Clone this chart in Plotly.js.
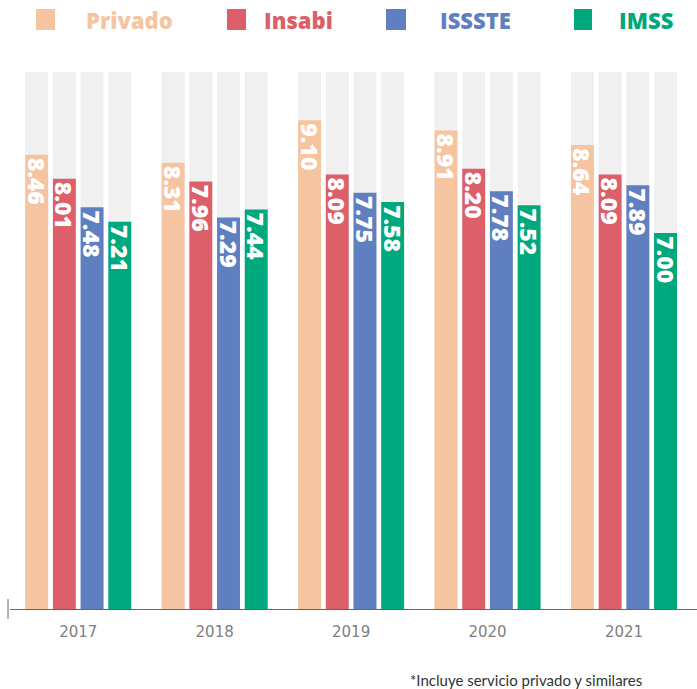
<!DOCTYPE html>
<html>
<head>
<meta charset="utf-8">
<script src="https://cdn.plot.ly/plotly-3.0.1.min.js"></script>
<style>html,body{margin:0;padding:0;background:#fff;}#chart{width:697px;height:689px;}</style>
</head>
<body>
<div id="chart"></div>
<script>
const years = ['2017','2018','2019','2020','2021'];
const seriesNames = ['Privado','Insabi','ISSSTE','IMSS'];
const privado = [8.46, 8.31, 9.10, 8.91, 8.64];
const insabi  = [8.01, 7.96, 8.09, 8.20, 8.09];
const issste  = [7.48, 7.29, 7.75, 7.78, 7.89];
const imss    = [7.21, 7.44, 7.58, 7.52, 7.00];
const maxScore = [10, 10, 10, 10, 10];
const footnote = '*Incluye servicio privado y similares';

const colors = ['#F5C4A0', '#DC5F69', '#5F7FC0', '#00A87D'];
const values = [privado, insabi, issste, imss];
const W = 697, H = 689, ml = 10, mr = 0, mt = 72, mb = 80;
const pw = W - ml - mr, ph = H - mt - mb;
const px2x = p => (p - ml) / pw;
const px2y = p => 1 - (p - mt) / ph;

const barW = 0.168, step = 0.203;
const centers = [-1.5, -0.5, 0.5, 1.5].map(k => k * step);

const traces = [];
centers.forEach((c, i) => {
  traces.push({
    type: 'bar', x: years, y: maxScore, width: barW, offset: c - barW / 2,
    marker: {color: '#F0F0F0'}, hoverinfo: 'skip', showlegend: false
  });
});
values.forEach((v, i) => {
  traces.push({
    type: 'bar', name: seriesNames[i], x: years, y: v,
    width: barW, offset: centers[i] - barW / 2,
    marker: {color: colors[i]},
    texttemplate: '%{y:.2f}', textposition: 'inside', insidetextanchor: 'end',
    textangle: 90, constraintext: 'none',
    insidetextfont: {color: '#ffffff', size: 23, family: 'Open Sans', weight: 800},
    showlegend: false
  });
});

const legSq = [[36, 55], [227, 246], [386, 406], [574, 592]];
const legTx = [84, 262, 438, 617];
const shapes = legSq.map((s, i) => ({
  type: 'rect', xref: 'paper', yref: 'paper',
  x0: px2x(s[0]), x1: px2x(s[1]), y0: px2y(30), y1: px2y(9),
  fillcolor: colors[i], line: {width: 0}
}));
shapes.push({type: 'line', xref: 'paper', yref: 'paper',
  x0: px2x(8), x1: px2x(8), y0: px2y(599), y1: px2y(619),
  line: {color: '#666666', width: 1}});

const annotations = seriesNames.map((n, i) => ({
  text: n, xref: 'paper', yref: 'paper',
  x: px2x(legTx[i]), y: px2y(20), xanchor: 'left', yanchor: 'middle',
  showarrow: false, font: {family: 'Open Sans', size: 22, weight: 800, color: colors[i]}
}));
annotations.push({
  text: footnote, xref: 'paper', yref: 'paper', x: px2x(644), y: px2y(680),
  xanchor: 'right', yanchor: 'middle', showarrow: false,
  font: {family: 'Lato', size: 15, color: '#333333'}
});

const layout = {
  width: W, height: H, margin: {l: ml, r: mr, t: mt, b: mb},
  paper_bgcolor: '#ffffff', plot_bgcolor: '#ffffff',
  barmode: 'overlay',
  xaxis: {type: 'category', range: [-0.5, 4.535], showgrid: false, zeroline: false,
    showline: true, linecolor: '#666666', linewidth: 1, ticks: '',
    tickfont: {family: 'DejaVu Sans', size: 15, color: '#808080'}, ticklabelstandoff: 9},
  yaxis: {range: [0, 10], visible: false, fixedrange: true},
  shapes: shapes, annotations: annotations, showlegend: false
};
Plotly.newPlot('chart', traces, layout, {displayModeBar: false, staticPlot: true});
</script>
</body>
</html>
